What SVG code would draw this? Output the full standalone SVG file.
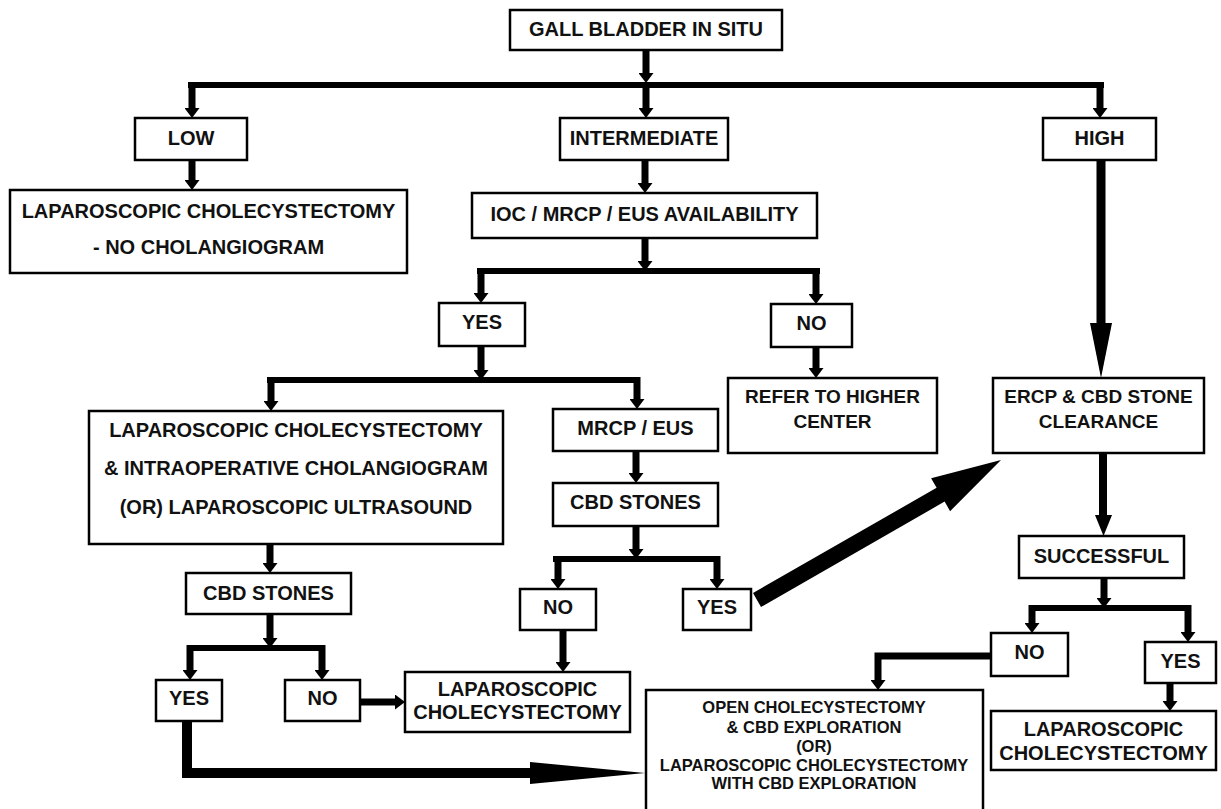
<svg xmlns="http://www.w3.org/2000/svg" width="1221" height="809" viewBox="0 0 1221 809">
<defs>
<style>
.box{fill:#fff;stroke:#000;stroke-width:2.5}
.t{font-family:"Liberation Sans",Arial,sans-serif;font-weight:bold;font-size:20px;fill:#111;text-anchor:middle}
.s19{font-size:19px}
.s16{font-size:16.5px}
.sh{fill:none;stroke:#000;stroke-width:7;marker-end:url(#ah)}
.fk{fill:none;stroke:#000;stroke-width:6}
.big{fill:#000;stroke:none}
</style>
<marker id="ah" markerUnits="userSpaceOnUse" markerWidth="10" markerHeight="15" refX="0" refY="7.5" orient="auto" viewBox="0 0 10 15">
<path d="M0,0 L10,7.5 L0,15 z" fill="#000"/>
</marker>
</defs>
<rect width="1221" height="809" fill="#fff"/>
<g id="connectors">
<line class="fk" x1="188" y1="85" x2="1104" y2="85"/>
<line class="fk" x1="477" y1="271" x2="820" y2="271"/>
<line class="fk" x1="267" y1="380" x2="640" y2="380"/>
<line class="fk" x1="187" y1="648" x2="325" y2="648"/>
<line class="fk" x1="553" y1="559" x2="720" y2="559"/>
<line class="fk" x1="1029" y1="608" x2="1191" y2="608"/>
<path class="sh" d="M646,50 V73"/>
<path class="sh" d="M192,82 V108"/>
<path class="sh" d="M646,82 V108"/>
<path class="sh" d="M1100,82 V108"/>
<path class="sh" d="M192,160 V180"/>
<path class="sh" d="M645,160 V183"/>
<path class="sh" d="M645,238 V261"/>
<path class="sh" d="M481,268 V293"/>
<path class="sh" d="M816,268 V294"/>
<path class="sh" d="M481,346 V370"/>
<path class="sh" d="M816,347 V368"/>
<path class="sh" d="M271,377 V401"/>
<path class="sh" d="M637,377 V399"/>
<path class="sh" d="M636,451 V473"/>
<path class="sh" d="M636,526 V549"/>
<path class="sh" d="M558,556 V579"/>
<path class="sh" d="M717,556 V579"/>
<path class="sh" d="M563,630 V662"/>
<path class="sh" d="M270,544 V563"/>
<path class="sh" d="M270,614 V638"/>
<path class="sh" d="M190,645 V670"/>
<path class="sh" d="M322,645 V670"/>
<path class="sh" d="M360,702 H395"/>
<path class="sh" d="M1104,578 V598"/>
<path class="sh" d="M1032,605 V623"/>
<path class="sh" d="M1188,605 V632"/>
<path class="sh" d="M1170,683 V701"/>
<path class="sh" d="M991,656 H878 V680"/>
<rect class="big" x="1096.5" y="160" width="9" height="164"/>
<polygon class="big" points="1090,323 1112,323 1101,378"/>
<rect class="big" x="1099" y="453" width="8" height="64"/>
<polygon class="big" points="1095,515 1112,515 1103.5,536"/>
<polygon class="big" points="761,607 944.6,501.6 950.1,511.2 1001,460 931.1,478.2 936.6,487.8 753,593"/>
<path d="M187,717 V773 H532" fill="none" stroke="#000" stroke-width="10"/>
<polygon class="big" points="530,762 530,784 645,773"/>
</g>
<g id="gall"><rect class="box" x="510" y="10" width="272" height="40"/><text class="t" x="646" y="36">GALL BLADDER IN SITU</text></g>
<g id="low"><rect class="box" x="135" y="118" width="112" height="42"/><text class="t" x="191" y="145">LOW</text></g>
<g id="lapno"><rect class="box" x="10" y="190" width="397" height="83"/><text class="t" x="208.5" y="218">LAPAROSCOPIC CHOLECYSTECTOMY</text><text class="t" x="208.5" y="254">- NO CHOLANGIOGRAM</text></g>
<g id="intermediate"><rect class="box" x="560" y="118" width="168" height="42"/><text class="t" x="644" y="145">INTERMEDIATE</text></g>
<g id="high"><rect class="box" x="1043" y="118" width="113" height="42"/><text class="t" x="1099.5" y="145">HIGH</text></g>
<g id="ioc"><rect class="box" x="472" y="193" width="345" height="45"/><text class="t" x="644.5" y="221">IOC / MRCP / EUS AVAILABILITY</text></g>
<g id="yes1"><rect class="box" x="439" y="303" width="86" height="43"/><text class="t" x="482" y="329">YES</text></g>
<g id="no1"><rect class="box" x="771" y="304" width="81" height="43"/><text class="t" x="811.5" y="330">NO</text></g>
<g id="refer"><rect class="box" x="728" y="378" width="209" height="75"/><text class="t s19" x="832.5" y="403">REFER TO HIGHER</text><text class="t s19" x="832.5" y="428">CENTER</text></g>
<g id="lapioc"><rect class="box" x="89" y="411" width="414" height="133"/><text class="t" x="296" y="437">LAPAROSCOPIC CHOLECYSTECTOMY</text><text class="t" x="296" y="475">&amp; INTRAOPERATIVE CHOLANGIOGRAM</text><text class="t" x="296" y="514">(OR) LAPAROSCOPIC ULTRASOUND</text></g>
<g id="mrcp"><rect class="box" x="553" y="409" width="165" height="42"/><text class="t" x="635.5" y="435">MRCP / EUS</text></g>
<g id="ercp"><rect class="box" x="993" y="378" width="211" height="75"/><text class="t s19" x="1098.5" y="403">ERCP &amp; CBD STONE</text><text class="t s19" x="1098.5" y="428">CLEARANCE</text></g>
<g id="cbd1"><rect class="box" x="186" y="573" width="165" height="41"/><text class="t" x="268.5" y="600">CBD STONES</text></g>
<g id="cbd2"><rect class="box" x="553" y="483" width="165" height="43"/><text class="t" x="635.5" y="509">CBD STONES</text></g>
<g id="no2"><rect class="box" x="520" y="589" width="76" height="41"/><text class="t" x="558" y="614">NO</text></g>
<g id="yes2"><rect class="box" x="683" y="589" width="68" height="41"/><text class="t" x="717" y="614">YES</text></g>
<g id="successful"><rect class="box" x="1019" y="536" width="165" height="42"/><text class="t" x="1101.5" y="563">SUCCESSFUL</text></g>
<g id="yes3"><rect class="box" x="156" y="680" width="66" height="41"/><text class="t" x="189" y="705">YES</text></g>
<g id="no3"><rect class="box" x="285" y="680" width="75" height="41"/><text class="t" x="322.5" y="705">NO</text></g>
<g id="lapmid"><rect class="box" x="405" y="672" width="225" height="60"/><text class="t" x="517.5" y="696">LAPAROSCOPIC</text><text class="t" x="517.5" y="719">CHOLECYSTECTOMY</text></g>
<g id="open"><rect class="box" x="646" y="690" width="337" height="130"/><text class="t s16" x="814" y="713">OPEN CHOLECYSTECTOMY</text><text class="t s16" x="814" y="733">&amp; CBD EXPLORATION</text><text class="t s16" x="814" y="752">(OR)</text><text class="t s16" x="814" y="771">LAPAROSCOPIC CHOLECYSTECTOMY</text><text class="t s16" x="814" y="789">WITH CBD EXPLORATION</text></g>
<g id="no4"><rect class="box" x="991" y="633" width="77" height="43"/><text class="t" x="1029.5" y="659">NO</text></g>
<g id="yes4"><rect class="box" x="1145" y="642" width="71" height="41"/><text class="t" x="1180.5" y="668">YES</text></g>
<g id="lapright"><rect class="box" x="991" y="711" width="225" height="59"/><text class="t" x="1103.5" y="736">LAPAROSCOPIC</text><text class="t" x="1103.5" y="760">CHOLECYSTECTOMY</text></g>
</svg>
